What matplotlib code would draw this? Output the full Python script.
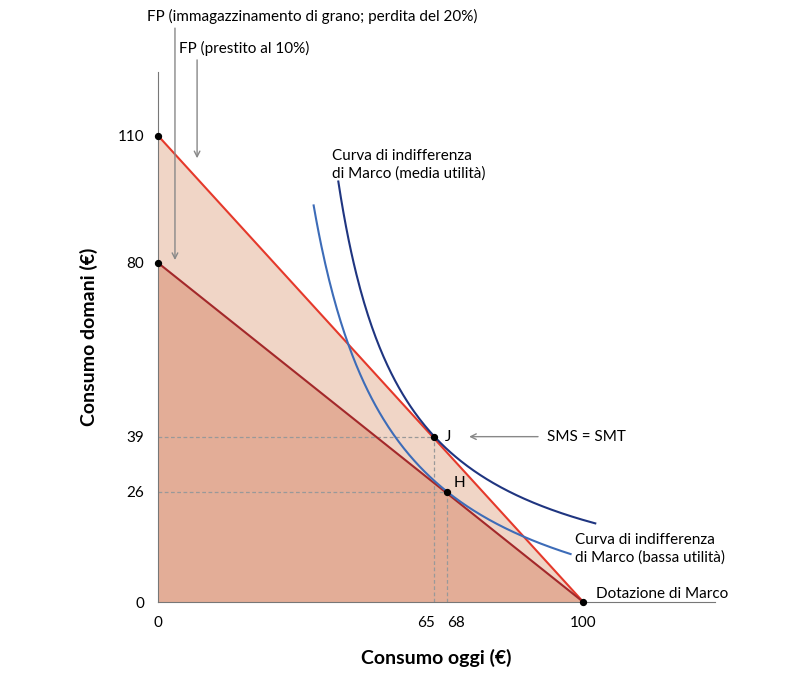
import numpy as np
import matplotlib.pyplot as plt

plt.rcParams["font.family"] = "Lato"

# budget constraints (endpoints)
fp_loan = [(0, 110), (100, 0)]
fp_grain = [(0, 80), (100, 0)]
# optimal points
J = (65, 39)
H = (68, 26)
# indifference curves y = b + k / (x - a), plotted over x range
ic_high = dict(a=27, b=-2, k=1558, x0=42.4, x1=102.8)
ic_low = dict(a=18, b=-14, k=2000, x0=36.6, x1=97)
xticks = [0, 65, 68, 100]
yticks = [0, 26, 39, 80, 110]

red = "#e5392b"
dark_red = "#a3282a"

fig = plt.figure(figsize=(8.1, 6.92), dpi=100)
ax = fig.add_axes([0.195, 0.130, 0.688, 0.766])
ax.set_xlim(0, 131)
ax.set_ylim(0, 125)

xs = np.array([fp_loan[0][0], fp_loan[1][0]])
ax.fill_between(xs, [fp_loan[0][1], fp_loan[1][1]], 0, color="#f0d5c6", lw=0)
ax.fill_between(xs, [fp_grain[0][1], fp_grain[1][1]], 0, color="#e3ad97", lw=0)
ax.plot(xs, [fp_loan[0][1], fp_loan[1][1]], color=red, lw=1.5, zorder=3)
ax.plot(xs, [fp_grain[0][1], fp_grain[1][1]], color=dark_red, lw=1.5, zorder=3)

for ic, col in [(ic_high, "#1f3580"), (ic_low, "#3d6cb8")]:
    x = np.linspace(ic["x0"], ic["x1"], 200)
    ax.plot(x, ic["b"] + ic["k"] / (x - ic["a"]), color=col, lw=1.5, zorder=4)

for p in (J, H):
    ax.plot([p[0], p[0]], [0, p[1]], ls=(0, (3, 2)), color="#999999", lw=0.9, zorder=2)
    ax.plot([0, p[0]], [p[1], p[1]], ls=(0, (3, 2)), color="#999999", lw=0.9, zorder=2)

pts = [fp_loan[0], fp_grain[0], J, H, fp_loan[1]]
ax.scatter([p[0] for p in pts], [p[1] for p in pts], s=18, color="black", zorder=5, clip_on=False)
ax.text(J[0] + 2.5, J[1], "J", fontsize=11, va="center")
ax.text(H[0] + 1.5, H[1] + 2, "H", fontsize=11, va="center")

ax.set_xticks(xticks)
ax.set_xticklabels(["0", "65", "68", "100"], fontsize=11)
ax.set_yticks(yticks)
ax.set_yticklabels([str(v) for v in yticks], fontsize=11)
ax.tick_params(length=0, pad=10)
for lbl in ax.get_xticklabels():
    if lbl.get_text() == "65":
        lbl.set_ha("right")
    if lbl.get_text() == "68":
        lbl.set_ha("left")
for s in ["top", "right"]:
    ax.spines[s].set_visible(False)
for s in ["left", "bottom"]:
    ax.spines[s].set_color("#777777")
ax.set_xlabel("Consumo oggi (€)", fontsize=14, fontweight="bold", labelpad=14)
ax.set_ylabel("Consumo domani (€)", fontsize=14, fontweight="bold", labelpad=14)

arr = dict(arrowstyle="->", color="#888888", lw=1)
ax.annotate("", xy=(4, 80), xytext=(4, 136), arrowprops=arr, annotation_clip=False)
ax.text(-2.5, 138, "FP (immagazzinamento di grano; perdita del 20%)", fontsize=11, va="center")
ax.annotate("", xy=(9.2, 104), xytext=(9.2, 128.5), arrowprops=arr, annotation_clip=False)
ax.text(5, 130.5, "FP (prestito al 10%)", fontsize=11, va="center")
ax.annotate("", xy=(72.5, 39), xytext=(90, 39), arrowprops=arr)
ax.text(91.5, 39, "SMS = SMT", fontsize=11, va="center")
ax.text(41, 103, "Curva di indifferenza\ndi Marco (media utilità)", fontsize=11, va="center", linespacing=1.3)
ax.text(98, 12.5, "Curva di indifferenza\ndi Marco (bassa utilità)", fontsize=11, va="center", linespacing=1.3)
ax.text(103, 2, "Dotazione di Marco", fontsize=11, va="center")

fig.savefig("out.png", dpi=100)
